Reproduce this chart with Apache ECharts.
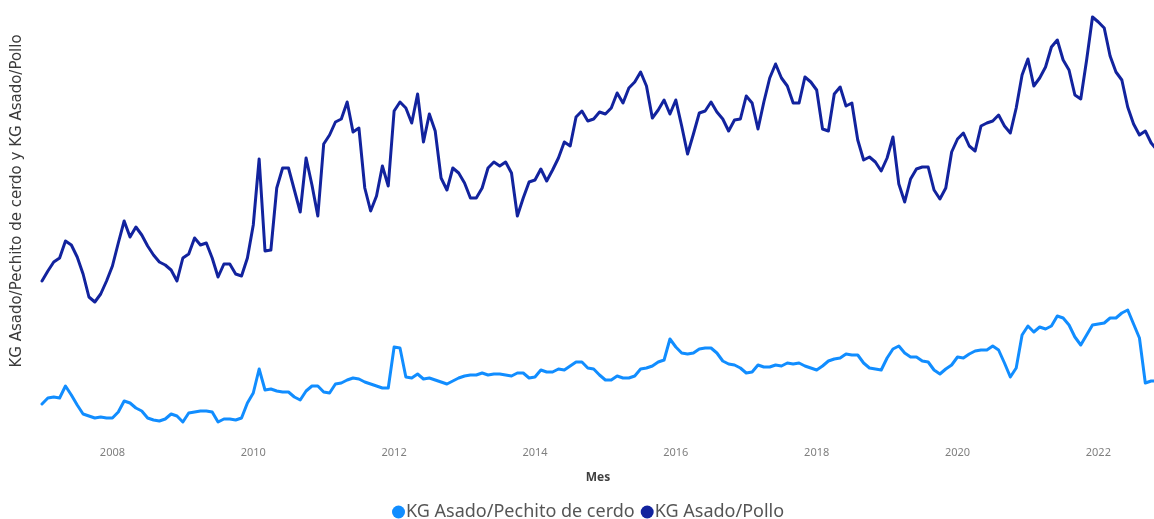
<!DOCTYPE html>
<html>
<head>
<meta charset="utf-8">
<script src="https://cdn.jsdelivr.net/npm/echarts@6/dist/echarts.min.js"></script>
<style>
html,body{margin:0;padding:0;background:#fff;}
#chart{width:1154px;height:519px;}
</style>
</head>
<body>
<div id="chart"></div>
<script>
// Monthly series starting January 2007
const startYear = 2007;
const startMonth = 1;
const tickYears = [2008, 2010, 2012, 2014, 2016, 2018, 2020, 2022];
const seriesNames = ['KG Asado/Pechito de cerdo', 'KG Asado/Pollo'];
const yTitle = 'KG Asado/Pechito de cerdo y KG Asado/Pollo';
const xTitle = 'Mes';

const asadoPechito = [
  0.86,0.92,0.93,0.92,1.04,0.95,0.85,0.76,0.74,0.72,
  0.73,0.72,0.72,0.78,0.89,0.87,0.82,0.79,0.72,0.70,
  0.69,0.71,0.76,0.74,0.68,0.77,0.78,0.79,0.79,0.78,
  0.68,0.71,0.71,0.70,0.72,0.87,0.97,1.21,1.00,1.01,
  0.99,0.98,0.98,0.93,0.90,0.99,1.04,1.04,0.98,0.97,
  1.06,1.07,1.10,1.12,1.11,1.08,1.06,1.04,1.02,1.02,
  1.43,1.42,1.13,1.12,1.16,1.11,1.12,1.10,1.08,1.06,
  1.09,1.12,1.14,1.15,1.15,1.17,1.15,1.16,1.16,1.15,
  1.14,1.17,1.17,1.12,1.13,1.20,1.18,1.18,1.21,1.20,
  1.24,1.28,1.28,1.22,1.21,1.15,1.10,1.10,1.14,1.12,
  1.12,1.14,1.21,1.22,1.24,1.28,1.30,1.51,1.43,1.37,
  1.36,1.37,1.41,1.42,1.42,1.37,1.29,1.26,1.25,1.22,
  1.17,1.18,1.25,1.23,1.23,1.25,1.24,1.27,1.26,1.27,
  1.24,1.22,1.20,1.24,1.29,1.31,1.32,1.36,1.35,1.35,
  1.27,1.22,1.21,1.20,1.32,1.41,1.44,1.37,1.33,1.33,
  1.29,1.28,1.20,1.16,1.21,1.25,1.33,1.32,1.36,1.39,
  1.40,1.40,1.44,1.40,1.27,1.13,1.22,1.55,1.64,1.58,
  1.63,1.61,1.64,1.74,1.72,1.65,1.53,1.45,1.55,1.65,
  1.66,1.67,1.72,1.72,1.77,1.80,1.66,1.52,1.07,1.09,
  1.09
];

const asadoPollo = [
  2.09,2.19,2.28,2.32,2.49,2.45,2.33,2.16,1.93,1.88,
  1.96,2.09,2.24,2.47,2.69,2.53,2.63,2.55,2.44,2.35,
  2.28,2.25,2.20,2.09,2.32,2.36,2.52,2.45,2.47,2.32,
  2.13,2.26,2.26,2.16,2.14,2.32,2.65,3.31,2.39,2.40,
  3.02,3.22,3.22,3.00,2.78,3.32,3.05,2.74,3.46,3.55,
  3.68,3.71,3.88,3.58,3.62,3.02,2.79,2.94,3.24,3.04,
  3.79,3.88,3.82,3.67,3.96,3.48,3.76,3.59,3.12,3.00,
  3.22,3.17,3.07,2.92,2.92,3.02,3.22,3.28,3.24,3.28,
  3.17,2.74,2.92,3.08,3.10,3.21,3.09,3.20,3.32,3.48,
  3.44,3.73,3.79,3.69,3.71,3.78,3.76,3.82,3.97,3.87,
  4.02,4.08,4.18,4.04,3.72,3.80,3.90,3.76,3.90,3.64,
  3.36,3.56,3.77,3.79,3.88,3.78,3.71,3.59,3.70,3.71,
  3.94,3.87,3.61,3.88,4.12,4.26,4.12,4.04,3.87,3.87,
  4.13,4.08,4.00,3.61,3.59,3.96,4.03,3.84,3.87,3.50,
  3.30,3.33,3.28,3.19,3.32,3.53,3.06,2.88,3.11,3.21,
  3.23,3.23,3.00,2.91,3.02,3.38,3.51,3.57,3.44,3.39,
  3.64,3.67,3.69,3.75,3.64,3.57,3.82,4.15,4.31,4.04,
  4.12,4.23,4.43,4.50,4.30,4.20,3.95,3.91,4.30,4.73,
  4.68,4.62,4.34,4.18,4.10,3.83,3.66,3.55,3.59,3.47,
  3.40
];

function monthX(i) {
  const m = (startMonth - 1) + i;
  return startYear + m / 12;
}
function toPairs(arr) {
  return arr.map((v, i) => [monthX(i), v]);
}

const chart = echarts.init(document.getElementById('chart'), null, {renderer: 'canvas'});
const font = '"Noto Sans", "Open Sans", sans-serif';

chart.setOption({
  animation: false,
  backgroundColor: '#ffffff',
  grid: {left: 42, right: 0, top: 10, bottom: 79, containLabel: false},
  graphic: [{
    type: 'text',
    x: 17,
    y: 201,
    rotation: Math.PI / 2,
    style: {
      text: yTitle,
      fill: '#3a3a3a',
      font: '15px "DejaVu Sans", sans-serif',
      textAlign: 'center',
      textVerticalAlign: 'middle'
    }
  }],
  xAxis: {
    type: 'value',
    min: 2007,
    max: 2022.79,
    axisLine: {show: false},
    axisTick: {show: false},
    splitLine: {show: false},
    axisLabel: {
      customValues: tickYears,
      formatter: v => String(Math.round(v)),
      color: '#7f7f7f',
      fontSize: 11,
      fontFamily: font,
      margin: 7
    },
    name: xTitle,
    nameLocation: 'middle',
    nameGap: 32,
    nameTextStyle: {color: '#404040', fontSize: 12, fontWeight: 'bold', fontFamily: font}
  },
  yAxis: {
    type: 'value',
    min: 0.5,
    max: 4.8,
    axisLine: {show: false},
    axisTick: {show: false},
    axisLabel: {show: false},
    splitLine: {show: false}
  },
  legend: {
    top: 498,
    left: 387,
    icon: 'circle',
    itemWidth: 13,
    itemHeight: 13,
    itemGap: 6,
    textStyle: {color: '#555555', fontSize: 18, fontFamily: font, padding: [0, 0, 0, -4]},
    data: seriesNames
  },
  series: [
    {
      name: seriesNames[0],
      type: 'line',
      data: toPairs(asadoPechito),
      showSymbol: false,
      symbol: 'circle',
      lineStyle: {width: 3, color: '#118DFF', join: 'round', cap: 'round'},
      itemStyle: {color: '#118DFF'},
      clip: true
    },
    {
      name: seriesNames[1],
      type: 'line',
      data: toPairs(asadoPollo),
      showSymbol: false,
      symbol: 'circle',
      lineStyle: {width: 3, color: '#12239E', join: 'round', cap: 'round'},
      itemStyle: {color: '#12239E'},
      clip: true
    }
  ]
});
</script>
</body>
</html>
